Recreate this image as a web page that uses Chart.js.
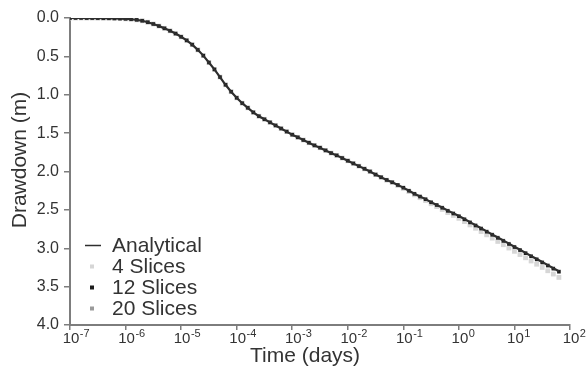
<!DOCTYPE html>
<html><head><meta charset="utf-8">
<script src="https://cdn.jsdelivr.net/npm/chart.js@4.4.1/dist/chart.umd.min.js"></script>
<style>html,body{margin:0;padding:0;background:#fff;}canvas{display:block;}</style>
</head><body>
<canvas id="c" width="587" height="369"></canvas>
<script>
// time grid (log10 of days)
const logTime = [
  -7.0,-6.9,-6.8,-6.7,-6.6,-6.5,-6.4,-6.3,-6.2,-6.1,
  -6.0,-5.9,-5.8,-5.7,-5.6,-5.5,-5.4,-5.3,-5.2,-5.1,
  -5.0,-4.9,-4.8,-4.7,-4.6,-4.5,-4.4,-4.3,-4.2,-4.1,
  -4.0,-3.9,-3.8,-3.7,-3.6,-3.5,-3.4,-3.3,-3.2,-3.1,
  -3.0,-2.9,-2.8,-2.7,-2.6,-2.5,-2.4,-2.3,-2.2,-2.1,
  -2.0,-1.9,-1.8,-1.7,-1.6,-1.5,-1.4,-1.3,-1.2,-1.1,
  -1.0,-0.9,-0.8,-0.7,-0.6,-0.5,-0.4,-0.3,-0.2,-0.1,
   0.0, 0.1, 0.2, 0.3, 0.4, 0.5, 0.6, 0.7, 0.8, 0.9,
   1.0, 1.1, 1.2, 1.3, 1.4, 1.5, 1.6, 1.7, 1.8
];
const analytical = [
  0.000,0.000,0.000,0.001,0.001,0.002,0.003,0.004,0.006,0.008,
  0.011,0.016,0.024,0.036,0.055,0.078,0.105,0.135,0.167,0.203,
  0.245,0.292,0.347,0.415,0.490,0.580,0.670,0.770,0.870,0.960,
  1.040,1.110,1.170,1.230,1.280,1.320,1.360,1.400,1.440,1.480,
  1.520,1.555,1.590,1.625,1.660,1.690,1.725,1.760,1.790,1.825,
  1.860,1.895,1.930,1.965,2.000,2.040,2.075,2.110,2.140,2.175,
  2.210,2.250,2.290,2.325,2.360,2.400,2.435,2.470,2.510,2.545,
  2.580,2.620,2.660,2.700,2.740,2.780,2.820,2.860,2.900,2.940,
  2.980,3.020,3.060,3.100,3.140,3.180,3.220,3.260,3.300
];
const slices4 = [
  0.000,0.000,0.000,0.001,0.001,0.002,0.003,0.004,0.006,0.008,
  0.011,0.016,0.024,0.036,0.055,0.078,0.105,0.135,0.167,0.203,
  0.245,0.292,0.347,0.415,0.490,0.580,0.670,0.770,0.870,0.960,
  1.040,1.110,1.170,1.230,1.280,1.320,1.360,1.400,1.440,1.480,
  1.520,1.555,1.590,1.625,1.660,1.690,1.725,1.760,1.790,1.825,
  1.860,1.895,1.930,1.965,2.000,2.041,2.077,2.113,2.145,2.182,
  2.220,2.262,2.304,2.341,2.378,2.420,2.457,2.494,2.536,2.573,
  2.610,2.653,2.696,2.739,2.782,2.825,2.868,2.911,2.954,2.997,
  3.040,3.082,3.124,3.166,3.208,3.250,3.293,3.336,3.380
];
const slices12 = [
  0.000,0.000,0.000,0.001,0.001,0.002,0.003,0.004,0.006,0.008,
  0.011,0.016,0.024,0.036,0.055,0.078,0.105,0.135,0.167,0.203,
  0.245,0.292,0.347,0.415,0.490,0.580,0.670,0.770,0.870,0.960,
  1.040,1.110,1.170,1.230,1.280,1.320,1.360,1.400,1.440,1.480,
  1.520,1.555,1.590,1.625,1.660,1.690,1.725,1.760,1.790,1.825,
  1.860,1.895,1.930,1.965,2.000,2.040,2.075,2.110,2.141,2.176,
  2.211,2.251,2.291,2.327,2.362,2.402,2.437,2.473,2.513,2.548,
  2.584,2.624,2.664,2.704,2.744,2.785,2.825,2.865,2.905,2.945,
  2.985,3.025,3.066,3.106,3.146,3.186,3.226,3.266,3.306
];
const slices20 = [
  0.000,0.000,0.000,0.001,0.001,0.002,0.003,0.004,0.006,0.008,
  0.011,0.016,0.024,0.036,0.055,0.078,0.105,0.135,0.167,0.203,
  0.245,0.292,0.347,0.415,0.490,0.580,0.670,0.770,0.870,0.960,
  1.040,1.110,1.170,1.230,1.280,1.320,1.360,1.400,1.440,1.480,
  1.520,1.555,1.590,1.625,1.660,1.690,1.725,1.760,1.790,1.825,
  1.860,1.895,1.930,1.965,2.000,2.040,2.075,2.110,2.140,2.175,
  2.210,2.250,2.290,2.325,2.361,2.401,2.436,2.471,2.511,2.546,
  2.582,2.622,2.662,2.702,2.742,2.782,2.822,2.862,2.902,2.942,
  2.982,3.022,3.062,3.102,3.142,3.183,3.223,3.263,3.303
];
const xTickExponents = [-7,-6,-5,-4,-3,-2,-1,0,1,2];
const yTicks = [0.0,0.5,1.0,1.5,2.0,2.5,3.0,3.5,4.0];
const seriesLabels = ['Analytical','4 Slices','12 Slices','20 Slices'];
const xTitle = 'Time (days)';
const yTitle = 'Drawdown (m)';

const FONT = "'Liberation Sans', Arial, Helvetica, sans-serif";
const TEXT = '#333333';
const AXIS = '#7d7d7d';
const COL = {analytical:'#2e2e2e', s4:'#d6d6d6', s12:'#1c1c1c', s20:'#9a9a9a'};

function pts(arr){ return logTime.map((e,i)=>({x: Math.pow(10,e), y: arr[i]})); }

const overlay = {
  id:'overlay',
  afterDraw(chart){
    const ctx = chart.ctx, xs = chart.scales.x;
    ctx.save();
    ctx.fillStyle = TEXT;
    // x tick labels with superscript exponents
    xTickExponents.forEach(e=>{
      const px = xs.getPixelForValue(Math.pow(10,e));
      ctx.font = '15px '+FONT; ctx.textAlign='center'; ctx.textBaseline='alphabetic';
      ctx.fillText('10', px + 1, 343);
      const w = ctx.measureText('10').width;
      ctx.font = '11px '+FONT; ctx.textAlign='left';
      ctx.fillText(String(e), px + 1 + w/2 + 0.5, 337);
    });
    // axis titles
    ctx.font = '21px '+FONT; ctx.textAlign='left'; ctx.textBaseline='alphabetic';
    ctx.fillText(xTitle, 250, 362);
    ctx.save();
    ctx.translate(26, 160); ctx.rotate(-Math.PI/2);
    ctx.textAlign='center';
    ctx.fillText(yTitle, 0, 0);
    ctx.restore();
    // legend
    const rows = [245.5, 266.5, 287.5, 308.5];
    const cols = [null, COL.s4, COL.s12, COL.s20];
    rows.forEach((cy,i)=>{
      if(i===0){
        ctx.strokeStyle = COL.analytical; ctx.lineWidth = 1.5;
        ctx.beginPath(); ctx.moveTo(85, cy); ctx.lineTo(101, cy); ctx.stroke();
      } else {
        ctx.fillStyle = cols[i];
        ctx.fillRect(90, cy-2, 4, 4);
      }
      ctx.fillStyle = TEXT;
      ctx.font = '21px '+FONT; ctx.textAlign='left'; ctx.textBaseline='middle';
      ctx.fillText(seriesLabels[i], 112, cy+1);
    });
    ctx.restore();
  }
};

new Chart(document.getElementById('c'), {
  type:'scatter',
  data:{datasets:[
    {label:seriesLabels[0], data:pts(analytical), showLine:true, borderColor:COL.analytical, borderWidth:2.2, pointRadius:0, tension:0},
    {label:seriesLabels[2], data:pts(slices12), pointStyle:'rect', pointRadius:2.4, backgroundColor:COL.s12, borderWidth:0},
    {label:seriesLabels[3], data:pts(slices20), pointStyle:'rect', pointRadius:2.7, backgroundColor:COL.s20, borderWidth:0},
    {label:seriesLabels[1], data:pts(slices4), pointStyle:'rect', pointRadius:3.4, backgroundColor:COL.s4, borderWidth:0}
  ]},
  options:{
    responsive:false, animation:false, devicePixelRatio:1,
    layout:{padding:{left:0,right:17,top:18,bottom:0}},
    plugins:{legend:{display:false}, tooltip:{enabled:false}},
    scales:{
      x:{type:'logarithmic', min:1e-7, max:1e2, position:'bottom',
        afterBuildTicks(s){ s.ticks = xTickExponents.map(e=>({value:Math.pow(10,e), major:true})); },
        afterFit(s){ s.height = 44; },
        ticks:{callback:()=>'', autoSkip:false, maxRotation:0},
        grid:{display:true, drawOnChartArea:false, drawTicks:true, tickLength:5, color:AXIS, lineWidth:1.5},
        border:{display:true, color:AXIS, width:2}
      },
      y:{type:'linear', reverse:true, min:0, max:4,
        afterBuildTicks(s){ s.ticks = yTicks.map(v=>({value:v})); },
        afterFit(s){ s.width = 70; },
        ticks:{callback:v=>Number(v).toFixed(1), font:{family:FONT, size:16}, color:TEXT, padding:5},
        grid:{display:true, drawOnChartArea:false, drawTicks:true, tickLength:6, color:AXIS, lineWidth:1.5},
        border:{display:true, color:AXIS, width:2}
      }
    }
  },
  plugins:[overlay]
});
</script>
</body></html>
